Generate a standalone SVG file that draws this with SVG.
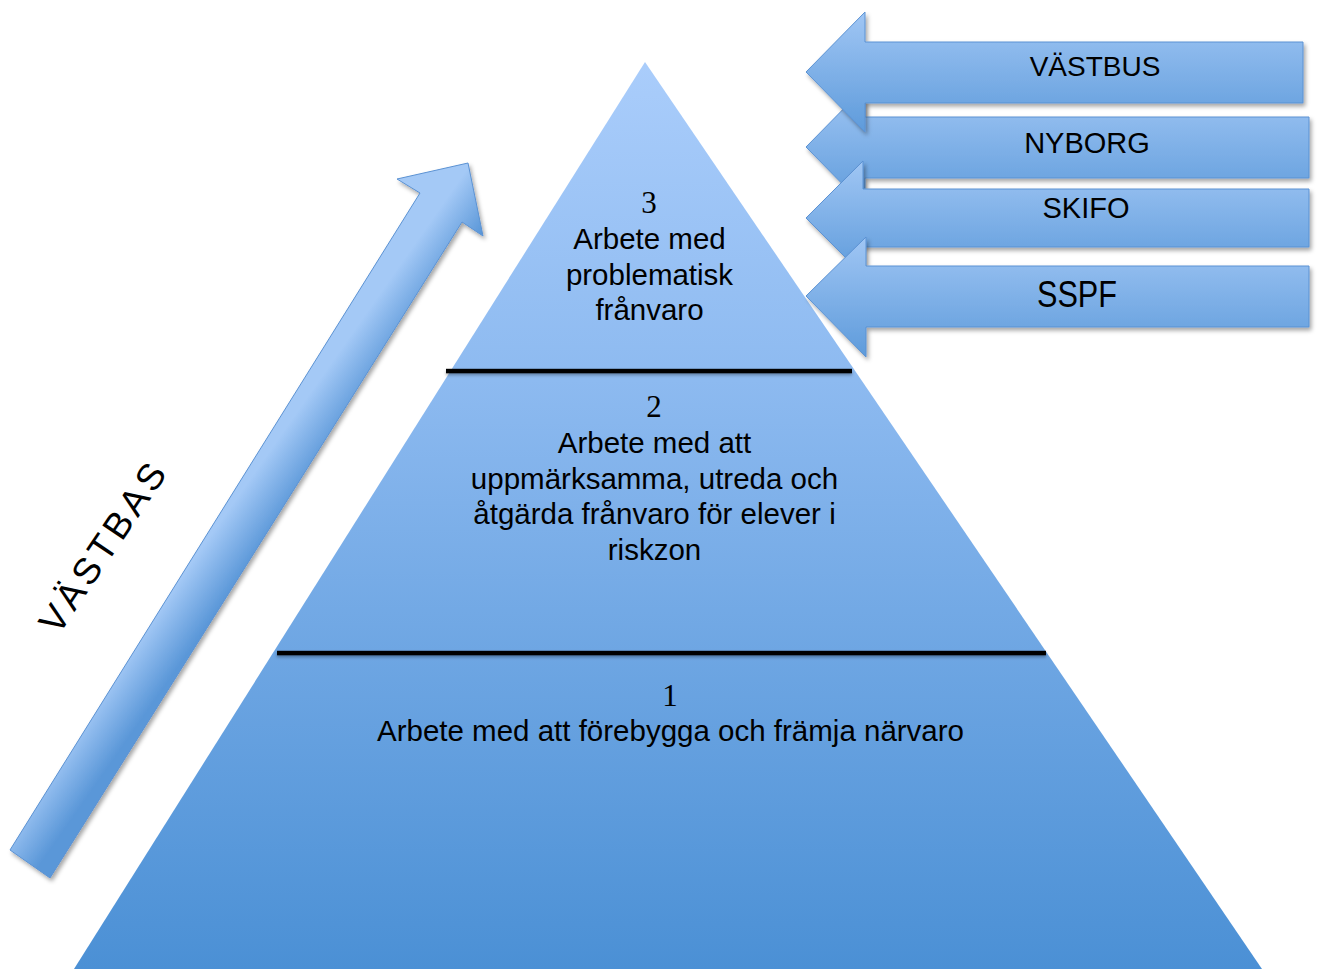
<svg xmlns="http://www.w3.org/2000/svg" width="1317" height="969" viewBox="0 0 1317 969">
  <defs>
    <linearGradient id="gPyr" x1="0" y1="62" x2="0" y2="969" gradientUnits="userSpaceOnUse">
      <stop offset="0" stop-color="#aacdfb"/>
      <stop offset="0.35" stop-color="#8dbaf0"/>
      <stop offset="0.65" stop-color="#6ea6e3"/>
      <stop offset="1" stop-color="#4b90d5"/>
    </linearGradient>
    <linearGradient id="gArr" x1="0" y1="0" x2="0" y2="1">
      <stop offset="0" stop-color="#a0c6f4"/>
      <stop offset="1" stop-color="#5e9bdb"/>
    </linearGradient>
    <linearGradient id="gDiag" x1="236" y1="499" x2="276" y2="527" gradientUnits="userSpaceOnUse">
      <stop offset="0" stop-color="#a4c9f6"/>
      <stop offset="1" stop-color="#5a97d8"/>
    </linearGradient>
    <filter id="sh" x="-10%" y="-10%" width="125%" height="130%">
      <feDropShadow dx="2" dy="3" stdDeviation="2" flood-color="#000" flood-opacity="0.35"/>
    </filter>
    <filter id="lsh" filterUnits="userSpaceOnUse" x="200" y="340" width="900" height="340">
      <feDropShadow dx="0" dy="2" stdDeviation="1.5" flood-color="#000" flood-opacity="0.3"/>
    </filter>
  </defs>
  <style>
    .arrow { fill: url(#gArr); stroke: #5b92d3; stroke-width: 1; filter: url(#sh); }
    .lbl { font-family: "Liberation Sans", Arial, sans-serif; fill: #000; text-anchor: middle; }
    .num { font-family: "Liberation Serif", "Times New Roman", serif; fill: #000; text-anchor: middle; font-size: 31px; }
    .txt { font-family: "Liberation Sans", Arial, sans-serif; fill: #000; text-anchor: middle; font-size: 29.5px; }
    .sep { fill: #000; filter: url(#lsh); }
  </style>
  <rect width="1317" height="969" fill="#ffffff"/>

  <g id="pyramid">
    <polygon points="645,62 1262,969 74,969" fill="url(#gPyr)"/>
  </g>

  <g id="connectors">
    <rect class="sep" x="446" y="368.8" width="406" height="4.5"/>
    <rect class="sep" x="277" y="650.8" width="769" height="4.5"/>
  </g>

  <g id="level3">
    <text class="num" x="649" y="213">3</text>
    <text class="txt" x="649.5" y="249">Arbete med</text>
    <text class="txt" x="649.5" y="285">problematisk</text>
    <text class="txt" x="649.5" y="320">frånvaro</text>
  </g>

  <g id="level2">
    <text class="num" x="654" y="417">2</text>
    <text class="txt" x="654.5" y="453">Arbete med att</text>
    <text class="txt" x="654.5" y="489">uppmärksamma, utreda och</text>
    <text class="txt" x="654.5" y="524">åtgärda frånvaro för elever i</text>
    <text class="txt" x="654.5" y="560">riskzon</text>
  </g>

  <g id="level1">
    <text class="num" x="670" y="706">1</text>
    <text class="txt" x="670.5" y="741">Arbete med att förebygga och främja närvaro</text>
  </g>

  <g id="vastbas">
    <path d="M10,850 L420,193 L397,179 L468,163 L483,236 L462,222 L50,878 Z" fill="url(#gDiag)" stroke="#5b92d3" stroke-width="1" filter="url(#sh)"/>
    <text class="lbl" transform="translate(113,555) rotate(-56)" font-size="37" textLength="196">VÄSTBAS</text>
  </g>

  <g id="nyborg">
    <path class="arrow" d="M806,147 L865,87 L865,117 L1309,117 L1309,178 L865,178 L865,207 Z"/>
    <text class="lbl" x="1087" y="153" font-size="29">NYBORG</text>
  </g>

  <g id="skifo">
    <path class="arrow" d="M806,218 L863,161 L863,189 L1309,189 L1309,247 L863,247 L863,275 Z"/>
    <text class="lbl" x="1086" y="218" font-size="29">SKIFO</text>
  </g>

  <g id="sspf">
    <path class="arrow" d="M806,296 L866,237 L866,266 L1309,266 L1309,327 L866,327 L866,357 Z"/>
    <text class="lbl" x="1077" y="307" font-size="36" textLength="80" lengthAdjust="spacingAndGlyphs">SSPF</text>
  </g>

  <g id="vastbus">
    <path class="arrow" d="M806,72 L865,12 L865,42 L1303,42 L1303,103 L865,103 L865,132 Z"/>
    <text class="lbl" x="1095" y="76" font-size="28">VÄSTBUS</text>
  </g>
</svg>
